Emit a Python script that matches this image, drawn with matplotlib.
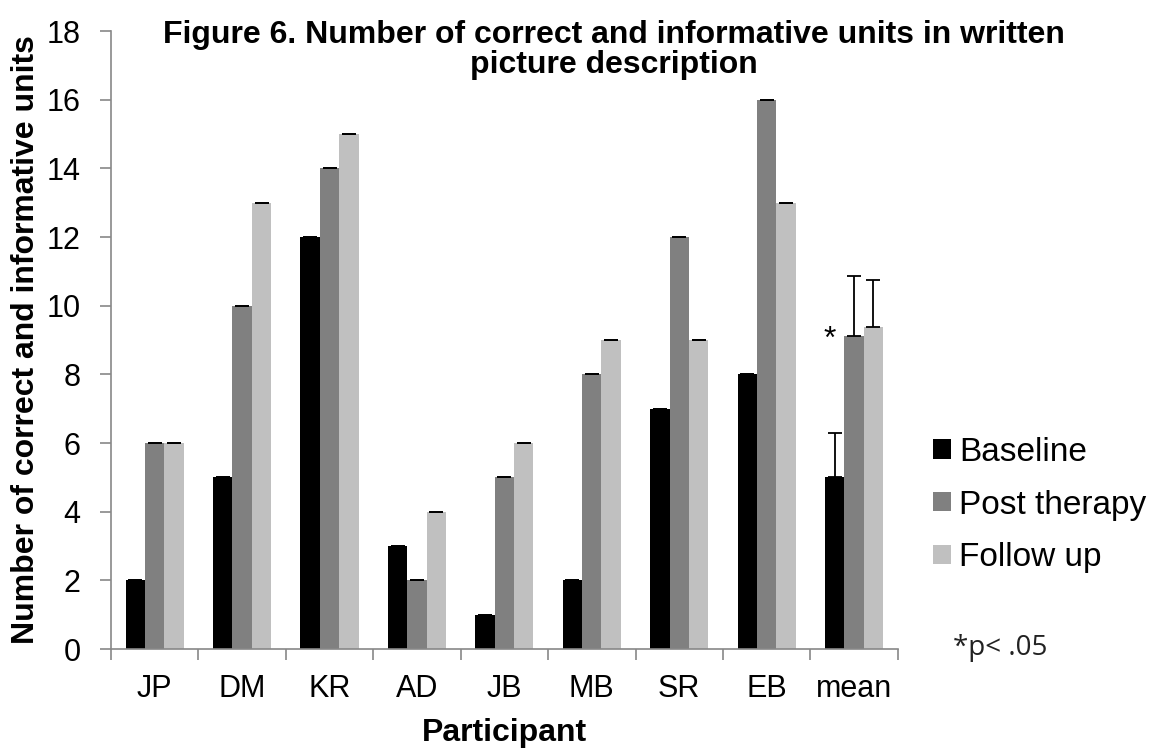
import numpy as np
import matplotlib.pyplot as plt

# --------------------
# Data
# --------------------
participants = ["JP", "DM", "KR", "AD", "JB", "MB", "SR", "EB", "mean"]
baseline = [2, 5, 12, 3, 1, 2, 7, 8, 5.0]
post_therapy = [6, 10, 14, 2, 5, 8, 12, 16, 9.12]
follow_up = [6, 13, 15, 4, 6, 9, 9, 13, 9.37]

baseline_err = [0, 0, 0, 0, 0, 0, 0, 0, 1.3]
post_err = [0, 0, 0, 0, 0, 0, 0, 0, 1.73]
follow_err = [0, 0, 0, 0, 0, 0, 0, 0, 1.39]

series_names = ["Baseline", "Post therapy", "Follow up"]
colors = ["#000000", "#808080", "#c0c0c0"]

# --------------------
# Plot
# --------------------
plt.rcParams['font.family'] = ['Liberation Sans', 'DejaVu Sans']

fig = plt.figure(figsize=(11.51, 7.49), dpi=100)
ax = fig.add_axes([0.0964, 0.1335, 0.6836, 0.8251])

x = np.arange(len(participants))
w = 0.222
offsets = [-w, 0, w]
data = [baseline, post_therapy, follow_up]
errs = [baseline_err, post_err, follow_err]

for vals, err, off, c, name in zip(data, errs, offsets, colors, series_names):
    ax.bar(x + off, vals, width=w, color=c, label=name, zorder=2)
    ax.errorbar(x + off, vals, yerr=[np.zeros(len(err)), err], fmt="none",
                ecolor="black", elinewidth=1.3, capsize=5, capthick=1.3, zorder=3)

ax.set_xlim(-0.5, len(participants) - 0.5)
ax.set_ylim(0, 18)
ax.set_yticks(np.arange(0, 19, 2))
ax.set_xticks(x)
ax.set_xticklabels(participants, fontsize=22)
ax.set_xticks(np.arange(-0.5, len(participants), 1), minor=True)
ax.tick_params(axis="x", which="major", length=0, pad=18)
ax.tick_params(axis="x", which="minor", length=8, color="#888888", width=1.2)
ax.tick_params(axis="y", labelsize=22, length=8, color="#888888", width=1.2, pad=14)

for s in ["top", "right"]:
    ax.spines[s].set_visible(False)
for s in ["left", "bottom"]:
    ax.spines[s].set_color("#888888")
    ax.spines[s].set_linewidth(1.2)

ax.set_xlabel("Participant", fontsize=23, fontweight="bold", labelpad=10)
ax.set_ylabel("Number of correct and informative units", fontsize=23,
              fontweight="bold", labelpad=4)

fig.text(0.533, 0.973, "Figure 6. Number of correct and informative units in written\npicture description",
         ha="center", va="top", fontsize=23, fontweight="bold", linespacing=0.97)

ax.text(len(participants) - 1 - 0.28, 9.0, "*", fontsize=23, ha="center", va="center")

fig.text(0.828, 0.135, "*p< .05", fontsize=20, family=["Open Sans", "DejaVu Sans"],
         color="#222222", ha="left", va="center")

ax.legend(loc="center left", bbox_to_anchor=(1.045, 0.233), frameon=False,
          fontsize=24, handlelength=0.52, handleheight=0.52, handletextpad=0.25,
          labelspacing=0.65, borderpad=0, borderaxespad=0)

fig.savefig("out.png", dpi=100)
